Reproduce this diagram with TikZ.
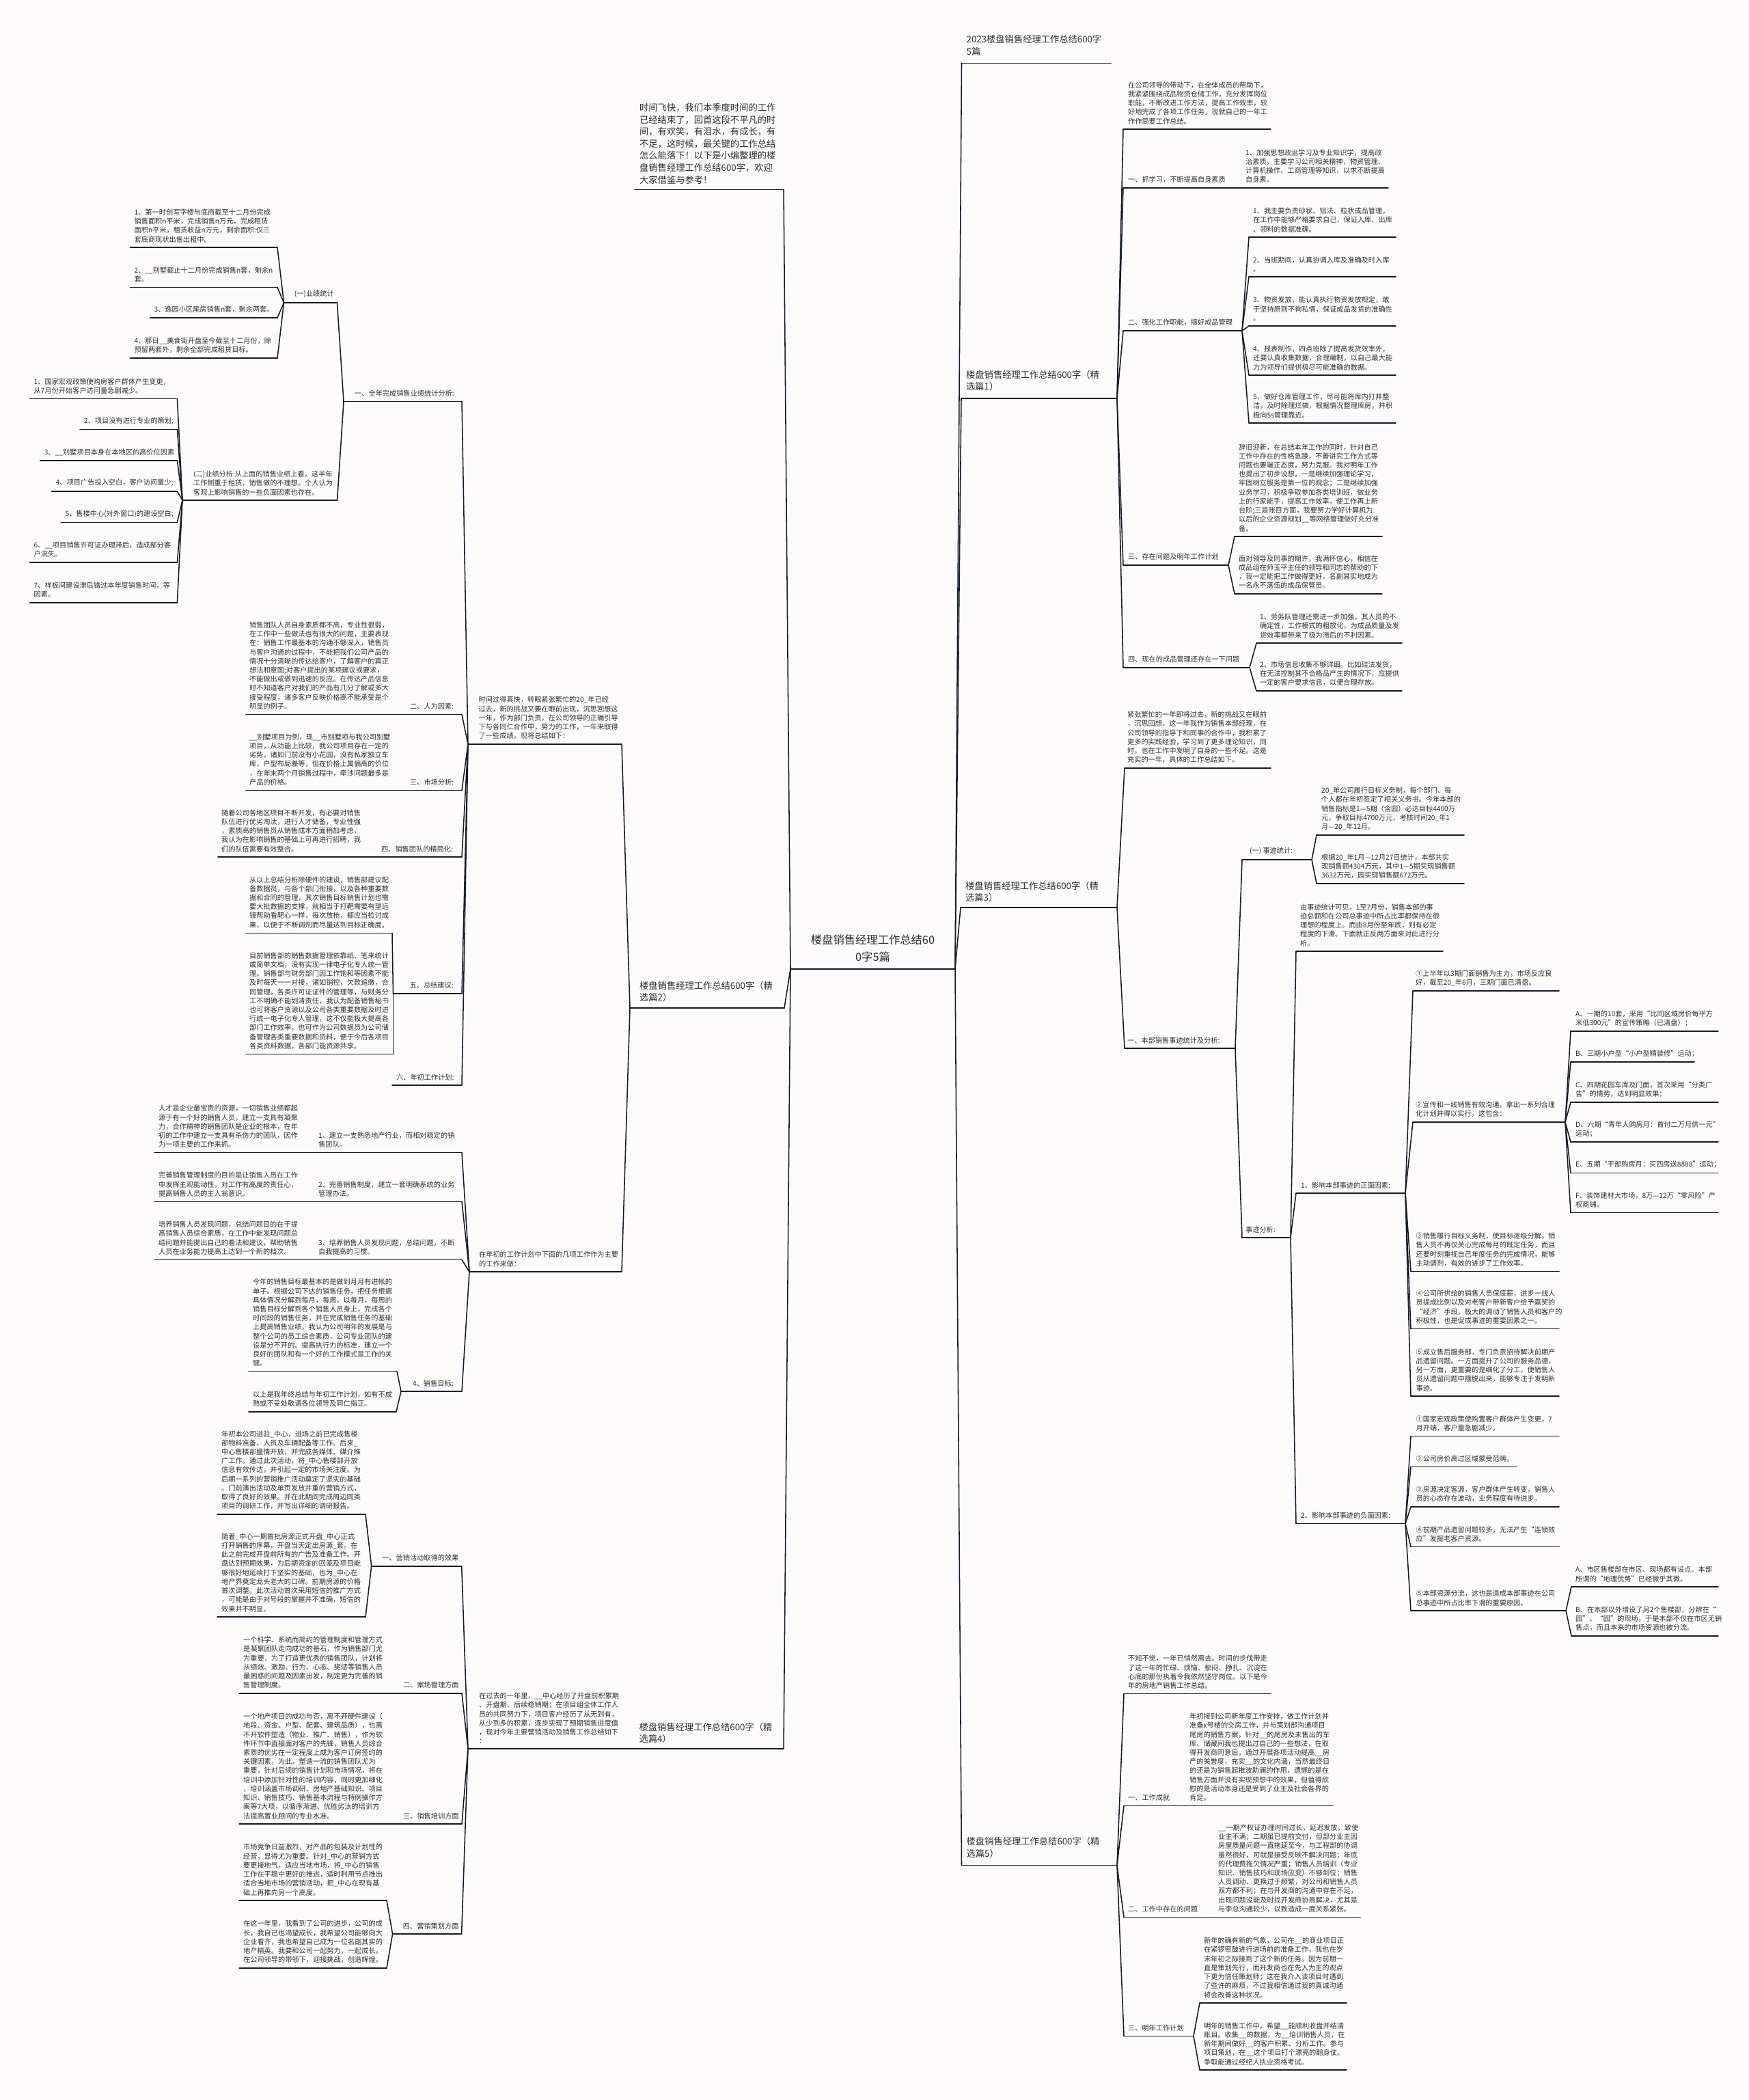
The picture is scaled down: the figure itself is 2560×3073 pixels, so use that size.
\documentclass[tikz,border=0pt]{standalone}
\usepackage{fontspec}
\setmainfont{Noto Sans CJK SC}
\usepackage{xcolor}

\definecolor{linecol}{RGB}{24,26,42}
\definecolor{txtcol}{RGB}{48,48,48}
\definecolor{paper}{RGB}{252,250,250}

\begin{document}
\begin{tikzpicture}[x=0.05cm,y=-0.05cm,
	ln/.style={draw=linecol, line width=2.2pt, line cap=round},
	sm/.style={anchor=south west, align=left, text=txtcol, inner xsep=0.3cm, inner ysep=0.35cm, font=\fontsize{14.5pt}{18.8pt}\selectfont},
	mid/.style={anchor=south west, align=left, text=txtcol, inner xsep=0.35cm, inner ysep=0.45cm, font=\fontsize{18.9pt}{25pt}\selectfont},
	big/.style={anchor=south, align=center, text=txtcol, inner ysep=0.52cm, font=\fontsize{23.2pt}{35.6pt}\selectfont}]

	\useasboundingbox (0,0) rectangle (2560,3073);
	\fill[paper] (0,0) rectangle (2560,3073);

	% root
	\node[big] (root) at (1277.5,1418) {楼盘销售经理工作总结60\\0字5篇};
	\draw[ln] (root.south) ++(-120.5,0) coordinate (root-w) -- ++(241,0) coordinate (root-e);

	% right titles
	\node[mid, inner ysep=0.55cm] (t0) at (1407.5,92.5) {2023楼盘销售经理工作总结600字\\5篇};
	\draw[ln] (t0.south west) -- ++(218.5,0) coordinate (t0-e);
	\node[mid, inner ysep=0.55cm] (b1) at (1407,583) {楼盘销售经理工作总结600字（精\\选篇1）};
	\draw[ln] (b1.south west) -- ++(228,0) coordinate (b1-e);
	\node[mid, inner ysep=0.4cm] (b3) at (1406,1328) {楼盘销售经理工作总结600字（精\\选篇3）};
	\draw[ln] (b3.south west) -- ++(229,0) coordinate (b3-e);
	\node[mid, inner ysep=0.55cm] (b5) at (1407.5,2729.6) {楼盘销售经理工作总结600字（精\\选篇5）};
	\draw[ln] (b5.south west) -- ++(227.5,0) coordinate (b5-e);

	\draw[ln] (root-e) -- (t0.south west);
	\draw[ln] (root-e) -- (b1.south west);
	\draw[ln] (root-e) -- (b3.south west);
	\draw[ln] (root-e) -- (b5.south west);

	% left titles
	\node[mid, inner ysep=0.4cm] (l0) at (929,277.3) {时间飞快，我们本季度时间的工作\\已经结束了，回首这段不平凡的时\\间，有欢笑，有泪水，有成长，有\\不足，这时候，最关键的工作总结\\怎么能落下！以下是小编整理的楼\\盘销售经理工作总结600字，欢迎\\大家借鉴与参考！};
	\draw[ln] (l0.south west) -- ++(218,0) coordinate (l0-e);
	\node[mid, inner xsep=0.7cm] (b2) at (922,1475) {楼盘销售经理工作总结600字（精\\选篇2）};
	\draw[ln] (b2.south west) -- ++(226,0) coordinate (b2-e);
	\node[mid, inner xsep=0.52cm, inner ysep=0.4cm] (b4) at (925,2559) {楼盘销售经理工作总结600字（精\\选篇4）};
	\draw[ln] (b4.south west) -- ++(222,0) coordinate (b4-e);

	\draw[ln] (root-w) -- (l0-e);
	\draw[ln] (root-w) -- (b2-e);
	\draw[ln] (root-w) -- (b4-e);

	% branch 1
	\node[sm, inner xsep=0.35cm] (b1i) at (1644,189) {在公司领导的带动下，在全体成员的帮助下，\\我紧紧围绕成品物资仓储工作，充分发挥岗位\\职能，不断改进工作方法，提高工作效率，较\\好地完成了各项工作任务，现就自己的一年工\\作作简要工作总结。};
	\draw[ln] (b1i.south west) -- ++(216,0);
	\node[sm, inner xsep=0.35cm] (b1a) at (1644,275) {一、抓学习，不断提高自身素质};
	\draw[ln] (b1a.south west) -- ++(174,0) coordinate (b1a-e);
	\node[sm, inner xsep=0.25cm] (b1a1) at (1818,275) {1、加强思想政治学习及专业知识学，提高政\\治素质。主要学习公司相关精神，物资管理、\\计算机操作、工商管理等知识，以求不断提高\\自身素。};
	\draw[ln] (b1a1.south west) -- ++(214,0);
	\node[sm, inner xsep=0.35cm] (b1b) at (1644,484) {二、强化工作职能，搞好成品管理};
	\draw[ln] (b1b.south west) -- ++(174,0) coordinate (b1b-e);
	\node[sm] (b1b1) at (1828,347) {1、我主要负责砂状、铝法、粒状成品管理，\\在工作中能够严格要求自己，保证入库、出库\\、领料的数据准确。};
	\draw[ln] (b1b1.south west) -- ++(215,0);
	\node[sm] (b1b2) at (1828,405) {2、当班期间，认真协调入库及准确及时入库\\。};
	\draw[ln] (b1b2.south west) -- ++(215,0);
	\node[sm] (b1b3) at (1828,477) {3、物资发放，能认真执行物资发放规定，敢\\于坚持原则不徇私情，保证成品发货的准确性\\。};
	\draw[ln] (b1b3.south west) -- ++(215,0);
	\node[sm] (b1b4) at (1828,549) {4、报表制作，四点班除了提高发货效率外，\\还要认真收集数据，合理编制，以自己最大能\\力为领导们提供极尽可能准确的数据。};
	\draw[ln] (b1b4.south west) -- ++(215,0);
	\node[sm] (b1b5) at (1828,619) {5、做好仓库管理工作，尽可能将库内打井整\\洁，及时除理烂袋，根据情况整理库房，并积\\极向5s管理靠近。};
	\draw[ln] (b1b5.south west) -- ++(215,0);
	\node[sm, inner xsep=0.35cm] (b1c) at (1644,827) {三、存在问题及明年工作计划};
	\draw[ln] (b1c.south west) -- ++(154,0) coordinate (b1c-e);
	\node[sm] (b1c1) at (1807,785) {辞旧迎新，在总结本年工作的同时，针对自己\\工作中存在的性格急躁，不善讲究工作方式等\\问题也要端正态度，努力克服。我对明年工作\\也提出了初步设想，一是继续加强理论学习，\\牢固树立服务是第一位的观念；二是继续加强\\业务学习，积极争取参加各类培训班，做业务\\上的行家能手，提高工作效率，使工作再上新\\台阶;三是账目方面，我要努力学好计算机为\\以后的企业资源规划\_\_等网络管理做好充分准\\备。};
	\draw[ln] (b1c1.south west) -- ++(216,0);
	\node[sm] (b1c2) at (1807,869) {面对领导及同事的期许，我满怀信心，相信在\\成品组在师玉平主任的领导和同志的帮助的下\\，我一定能把工作做得更好，名副其实地成为\\一名永不落伍的成品保管员。};
	\draw[ln] (b1c2.south west) -- ++(216,0);
	\node[sm, inner xsep=0.35cm] (b1d) at (1644,977) {四、现在的成品管理还存在一下问题};
	\draw[ln] (b1d.south west) -- ++(185,0) coordinate (b1d-e);
	\node[sm, inner xsep=0.25cm] (b1d1) at (1839,941) {1、劳务队管理还需进一步加强，其人员的不\\确定性，工作模式的粗放化，为成品质量及发\\货效率都带来了极为滞后的不利因素。};
	\draw[ln] (b1d1.south west) -- ++(213,0);
	\node[sm, inner xsep=0.25cm] (b1d2) at (1839,1011) {2、市场信息收集不够详细。比如硅法发货，\\在无法控制其不合格品产生的情况下，应提供\\一定的客户要求信息，以便合理存放。};
	\draw[ln] (b1d2.south west) -- ++(213,0);

	\draw[ln] (b1-e) -- (b1i.south west);
	\draw[ln] (b1-e) -- (b1a.south west);
	\draw[ln] (b1-e) -- (b1b.south west);
	\draw[ln] (b1-e) -- (b1c.south west);
	\draw[ln] (b1-e) -- (b1d.south west);
	\draw[ln] (b1a-e) -- (b1a1.south west);
	\draw[ln] (b1b-e) -- (b1b1.south west);
	\draw[ln] (b1b-e) -- (b1b2.south west);
	\draw[ln] (b1b-e) -- (b1b3.south west);
	\draw[ln] (b1b-e) -- (b1b4.south west);
	\draw[ln] (b1b-e) -- (b1b5.south west);
	\draw[ln] (b1c-e) -- (b1c1.south west);
	\draw[ln] (b1c-e) -- (b1c2.south west);
	\draw[ln] (b1d-e) -- (b1d1.south west);
	\draw[ln] (b1d-e) -- (b1d2.south west);

	% branch 3
	\node[sm, inner xsep=0.2cm] (b3i) at (1646,1124) {紧张繁忙的一年即将过去，新的挑战又在眼前\\，沉思回想，这一年我作为销售本部经理，在\\公司领导的指导下和同事的合作中，我积累了\\更多的实践经验，学习到了更多理论知识，同\\时，也在工作中发明了自身的一些不足。这是\\充实的一年，具体的工作总结如下。};
	\draw[ln] (b3i.south west) -- ++(214,0);
	\node[sm, inner xsep=0.2cm] (b3a) at (1646,1534) {一、本部销售事迹统计及分析:};
	\draw[ln] (b3a.south west) -- ++(162,0) coordinate (b3a-e);
	\node[sm, inner xsep=0.55cm] (b3a1) at (1818,1258) {(一) 事迹统计:};
	\draw[ln] (b3a1.south west) -- ++(102,0) coordinate (b3a1-e);
	\node[sm, inner xsep=0.35cm] (b3a1a) at (1927,1222) {20\_年公司履行目标义务制，每个部门、每\\个人都在年初签定了相关义务书。今年本部的\\销售指标是1—5期（含园）必达目标4400万\\元，争取目标4700万元，考核时间20\_年1\\月—20\_年12月。};
	\draw[ln] (b3a1a.south west) -- ++(216,0);
	\node[sm, inner xsep=0.35cm] (b3a1b) at (1927,1293) {根据20\_年1月—12月27日统计，本部共实\\现销售额4304万元，其中1—5期实现销售额\\3632万元，园实现销售额672万元。};
	\draw[ln] (b3a1b.south west) -- ++(216,0);
	\node[sm, inner xsep=0.25cm] (b3a2) at (1818,1811) {事迹分析:};
	\draw[ln] (b3a2.south west) -- ++(71,0) coordinate (b3a2-e);
	\node[sm] (b3a2i) at (1897,1392) {由事迹统计可见，1至7月份，销售本部的事\\迹总额和在公司总事迹中所占比率都保持在很\\理想的程度上。而由8月份至年底，则有必定\\程度的下滑。下面就正反两方面来对此进行分\\析。};
	\draw[ln] (b3a2i.south west) -- ++(215,0);
	\node[sm, inner xsep=0.35cm] (b3a2a) at (1897,1746) {1、影响本部事迹的正面因素:};
	\draw[ln] (b3a2a.south west) -- ++(160,0) coordinate (b3a2a-e);
	\node[sm, inner xsep=0.2cm] (p1) at (2068,1450) {①上半年以3期门面销售为主力，市场反应良\\好，截至20\_年6月，三期门面已清盘。};
	\draw[ln] (p1.south west) -- ++(214,0);
	\node[sm, inner xsep=0.2cm] (p2) at (2068,1642) {②宣传和一线销售有效沟通，拿出一系列合理\\化计划并得以实行，这包含：};
	\draw[ln] (p2.south west) -- ++(223,0) coordinate (p2-e);
	\node[sm, inner xsep=0.35cm] (pa) at (2299,1509) {A、一期的10套，采用“比同区域房价每平方\\米低300元”的宣传策略（已清盘）；};
	\draw[ln] (pa.south west) -- ++(216,0);
	\node[sm, inner xsep=0.35cm] (pb) at (2299,1554) {B、三期小户型“小户型精装修”运动；};
	\draw[ln] (pb.south west) -- ++(181,0);
	\node[sm, inner xsep=0.35cm] (pc) at (2299,1613) {C、四期花园车库及门面，首次采用“分类广\\告”的情势，达到明显效果；};
	\draw[ln] (pc.south west) -- ++(216,0);
	\node[sm, inner xsep=0.35cm] (pd) at (2299,1671) {D、六期“青年人购房月：首付二万月供一元”\\运动；};
	\draw[ln] (pd.south west) -- ++(216,0);
	\node[sm, inner xsep=0.35cm] (pe) at (2299,1716.5) {E、五期“干部购房月：买四房送8888”运动；};
	\draw[ln] (pe.south west) -- ++(216,0);
	\node[sm, inner xsep=0.35cm] (pf) at (2299,1774.6) {F、装饰建材大市场，8万—12万“零风险”产\\权商铺。};
	\draw[ln] (pf.south west) -- ++(216,0);
	\node[sm, inner xsep=0.37cm] (p3) at (2065,1860.5) {③销售履行目标义务制，使目标逐级分解。销\\售人员不再仅关心完成每月的既定任务，而且\\还要时刻重视自己年度任务的完成情况，能够\\主动调剂，有效的进步了工作效率。};
	\draw[ln] (p3.south west) -- ++(217,0);
	\node[sm, inner xsep=0.37cm] (p4) at (2065,1944.5) {④公司所供给的销售人员保底薪，进步一线人\\员提成比例以及对老客户带新客户给予嘉奖的\\“经济”手段，极大的调动了销售人员和客户的\\积极性，也是促成事迹的重要因素之一。};
	\draw[ln] (p4.south west) -- ++(217,0);
	\node[sm, inner xsep=0.37cm] (p5) at (2065,2043) {⑤成立售后服务部，专门负责招待解决前期产\\品遗留问题。一方面提升了公司的服务品德，\\另一方面，更重要的是细化了分工，使销售人\\员从遗留问题中摆脱出来，能够专注于发明新\\事迹。};
	\draw[ln] (p5.south west) -- ++(217,0);
	\node[sm, inner xsep=0.35cm] (b3a2b) at (1897,2229.5) {2、影响本部事迹的负面因素:};
	\draw[ln] (b3a2b.south west) -- ++(160,0) coordinate (b3a2b-e);
	\node[sm, inner xsep=0.37cm] (n1) at (2065,2101.6) {①国家宏观政策使购置客户群体产生变更，7\\月开端，客户量急剧减少。};
	\draw[ln] (n1.south west) -- ++(217,0);
	\node[sm, inner xsep=0.37cm] (n2) at (2065,2146.4) {②公司房价高过区域蒙受范畴。};
	\draw[ln] (n2.south west) -- ++(155,0);
	\node[sm, inner xsep=0.37cm] (n3) at (2065,2205) {③房源决定客源，客户群体产生转变，销售人\\员的心态存在波动，业务程度有待进步。};
	\draw[ln] (n3.south west) -- ++(217,0);
	\node[sm, inner xsep=0.37cm] (n4) at (2065,2263.5) {④前期产品遗留问题较多，无法产生“连锁效\\应”发掘老客户资源。};
	\draw[ln] (n4.south west) -- ++(217,0);
	\node[sm, inner xsep=0.37cm] (n5) at (2065,2357) {⑤本部资源分流，这也是造成本部事迹在公司\\总事迹中所占比率下滑的重要原因。};
	\draw[ln] (n5.south west) -- ++(227,0) coordinate (n5-e);
	\node[sm] (n5a) at (2300,2322) {A、市区售楼部在市区、现场都有设点。本部\\所谓的“地理优势”已经微乎其微。};
	\draw[ln] (n5a.south west) -- ++(215,0);
	\node[sm] (n5b) at (2300,2394) {B、在本部以外增设了另2个售楼部，分辨在“\\园”、“园”的现场，于是本部不仅在市区无销\\售点，而且本来的市场资源也被分流。};
	\draw[ln] (n5b.south west) -- ++(215,0);

	\draw[ln] (b3-e) -- (b3i.south west);
	\draw[ln] (b3-e) -- (b3a.south west);
	\draw[ln] (b3a-e) -- (b3a1.south west);
	\draw[ln] (b3a-e) -- (b3a2.south west);
	\draw[ln] (b3a1-e) -- (b3a1a.south west);
	\draw[ln] (b3a1-e) -- (b3a1b.south west);
	\draw[ln] (b3a2-e) -- (b3a2i.south west);
	\draw[ln] (b3a2-e) -- (b3a2a.south west);
	\draw[ln] (b3a2-e) -- (b3a2b.south west);
	\draw[ln] (b3a2a-e) -- (p1.south west);
	\draw[ln] (b3a2a-e) -- (p2.south west);
	\draw[ln] (b3a2a-e) -- (p3.south west);
	\draw[ln] (b3a2a-e) -- (p4.south west);
	\draw[ln] (b3a2a-e) -- (p5.south west);
	\draw[ln] (p2-e) -- (pa.south west);
	\draw[ln] (p2-e) -- (pb.south west);
	\draw[ln] (p2-e) -- (pc.south west);
	\draw[ln] (p2-e) -- (pd.south west);
	\draw[ln] (p2-e) -- (pe.south west);
	\draw[ln] (p2-e) -- (pf.south west);
	\draw[ln] (b3a2b-e) -- (n1.south west);
	\draw[ln] (b3a2b-e) -- (n2.south west);
	\draw[ln] (b3a2b-e) -- (n3.south west);
	\draw[ln] (b3a2b-e) -- (n4.south west);
	\draw[ln] (b3a2b-e) -- (n5.south west);
	\draw[ln] (n5-e) -- (n5a.south west);
	\draw[ln] (n5-e) -- (n5b.south west);

	% branch 5
	\node[sm] (b5i) at (1645,2478.5) {不知不觉，一年已悄然离去。时间的步伐带走\\了这一年的忙碌、烦恼、郁闷、挣扎、沉淀在\\心底的那份执着令我依然坚守岗位。以下是今\\年的房地产销售工作总结。};
	\draw[ln] (b5i.south west) -- ++(215,0);
	\node[sm] (b5a) at (1645,2642.5) {一、工作成就};
	\draw[ln] (b5a.south west) -- ++(91,0) coordinate (b5a-e);
	\node[sm, inner xsep=0.25cm] (b5a1) at (1736,2642.5) {年初接到公司新年度工作安排，做工作计划并\\准备x号楼的交房工作，并与策划部沟通项目\\尾房的销售方案，针对\_\_的尾房及未售出的车\\库、储藏间我也提出过自己的一些想法，在取\\得开发商同意后，通过开展各项活动提高\_\_房\\产的美誉度，充实\_\_的文化内涵，当然最终目\\的还是为销售起推波助澜的作用，遗憾的是在\\销售方面并没有实现预想中的效果，但值得欣\\慰的是活动本身还是受到了业主及社会各界的\\肯定。};
	\draw[ln] (b5a1.south west) -- ++(215,0);
	\node[sm] (b5b) at (1645,2805.6) {二、工作中存在的问题};
	\draw[ln] (b5b.south west) -- ++(132,0) coordinate (b5b-e);
	\node[sm] (b5b1) at (1777,2805.6) {\_\_一期产权证办理时间过长，延迟发放，致使\\业主不满；二期虽已提前交付，但部分业主因\\房屋质量问题一直拖延至今，与工程部的协调\\虽然很好，可就是接受反映不解决问题；年底\\的代理费拖欠情况严重；销售人员培训（专业\\知识、销售技巧和现场应变）不够到位；销售\\人员调动、更换过于频繁，对公司和销售人员\\双方都不利；在与开发商的沟通中存在不足，\\出现问题没能及时找开发商协商解决，尤其是\\与李总沟通较少，以致造成一度关系紧张。};
	\draw[ln] (b5b1.south west) -- ++(214,0);
	\node[sm] (b5c) at (1645,2979.4) {三、明年工作计划};
	\draw[ln] (b5c.south west) -- ++(102,0) coordinate (b5c-e);
	\node[sm] (b5c1) at (1756,2931) {新年的确有新的气象，公司在\_\_的商业项目正\\在紧锣密鼓进行进场前的准备工作，我也在岁\\末年初之际接到了这个新的任务。因为前期一\\直是策划先行，而开发商也在先入为主的观点\\下更为信任策划师；这在我介入该项目时遇到\\了些许的麻烦，不过我相信通过我的真诚沟通\\将会改善这种状况。};
	\draw[ln] (b5c1.south west) -- ++(215,0);
	\node[sm] (b5c2) at (1756,3029) {明年的销售工作中，希望\_\_能顺利收盘并结清\\账目。收集\_\_的数据，为\_\_培训销售人员，在\\新年期间做好\_\_的客户积累、分析工作。参与\\项目策划，在\_\_这个项目打个漂亮的翻身仗。\\争取能通过经纪人执业资格考试。};
	\draw[ln] (b5c2.south west) -- ++(215,0);

	\draw[ln] (b5-e) -- (b5i.south west);
	\draw[ln] (b5-e) -- (b5a.south west);
	\draw[ln] (b5-e) -- (b5b.south west);
	\draw[ln] (b5-e) -- (b5c.south west);
	\draw[ln] (b5a-e) -- (b5a1.south west);
	\draw[ln] (b5b-e) -- (b5b1.south west);
	\draw[ln] (b5c-e) -- (b5c1.south west);
	\draw[ln] (b5c-e) -- (b5c2.south west);

	% branch 2
	\node[sm, inner xsep=0.78cm] (b2i) at (685,1089) {时间过得真快，转眼紧张繁忙的20\_年已经\\过去，新的挑战又要在眼前出现，沉思回想这\\一年，作为部门负责，在公司领导的正确引导\\下与各同仁合作中，努力的工作，一年来取得\\了一些成绩，现将总结如下：};
	\draw[ln] (b2i.south west) -- ++(225,0) coordinate (b2i-e);
	\node[sm, inner xsep=0.7cm] (b2w) at (687,1861) {在年初的工作计划中下面的几项工作作为主要\\的工作来做：};
	\draw[ln] (b2w.south west) -- ++(223,0) coordinate (b2w-e);

	\node[sm, inner xsep=0.8cm] (s1) at (503,587.6) {一、全年完成销售业绩统计分析:};
	\draw[ln] (s1.south west) -- ++(173,0) coordinate (s1-e);
	\node[sm, inner xsep=0.76cm] (s1a) at (415.5,443) {(一)业绩统计};
	\draw[ln] (s1a.south west) -- ++(78,0) coordinate (s1a-e);
	\node[sm] (s1a1) at (190.5,362) {1、第一时创写字楼与底商截至十二月份完成\\销售面积n平米，完成销售n万元，完成租赁\\面积n平米，租赁收益n万元，剩余面积:仅三\\套底商现状出售出租中。};
	\draw[ln] (s1a1.south west) -- ++(215.5,0) coordinate (s1a1-e);
	\node[sm] (s1a2) at (190.5,420.4) {2、\_\_别墅截止十二月份完成销售n套，剩余n\\套。};
	\draw[ln] (s1a2.south west) -- ++(215.5,0) coordinate (s1a2-e);
	\node[sm] (s1a3) at (219.5,465) {3、逸园小区尾房销售n套，剩余两套。};
	\draw[ln] (s1a3.south west) -- ++(186.5,0) coordinate (s1a3-e);
	\node[sm] (s1a4) at (190.5,524) {4、那日\_\_美食街开盘至今截至十二月份，除\\预留两套外，剩余全部完成租赁目标。};
	\draw[ln] (s1a4.south west) -- ++(215.5,0) coordinate (s1a4-e);
	\node[sm, inner xsep=0.8cm] (s1b) at (267,732) {(二)业绩分析:从上面的销售业绩上看，这半年\\工作侧重于租赁，销售做的不理想。个人认为\\客观上影响销售的一些负面因素也存在。};
	\draw[ln] (s1b.south west) -- ++(226.6,0) coordinate (s1b-e);
	\node[sm] (s1b1) at (43.6,583.7) {1、国家宏观政策使购房客户群体产生变更，\\从7月份开始客户访问量急剧减少。};
	\draw[ln] (s1b1.south west) -- ++(215.8,0) coordinate (s1b1-e);
	\node[sm] (s1b2) at (117,628.7) {2、项目没有进行专业的策划;};
	\draw[ln] (s1b2.south west) -- ++(142.4,0) coordinate (s1b2-e);
	\node[sm] (s1b3) at (58.8,673.8) {3、\_\_别墅项目本身在本地区的高价位因素};
	\draw[ln] (s1b3.south west) -- ++(200.6,0) coordinate (s1b3-e);
	\node[sm] (s1b4) at (75.8,719) {4、项目广告投入空白，客户访问量少;};
	\draw[ln] (s1b4.south west) -- ++(183.6,0) coordinate (s1b4-e);
	\node[sm] (s1b5) at (89.5,764.4) {5、售楼中心(对外窗口)的建设空白;};
	\draw[ln] (s1b5.south west) -- ++(169.9,0) coordinate (s1b5-e);
	\node[sm] (s1b6) at (43.6,823) {6、\_\_项目销售许可证办理滞后，造成部分客\\户流失。};
	\draw[ln] (s1b6.south west) -- ++(215.8,0) coordinate (s1b6-e);
	\node[sm] (s1b7) at (43.6,881.8) {7、样板间建设滞后错过本年度销售时间，等\\因素。};
	\draw[ln] (s1b7.south west) -- ++(215.8,0) coordinate (s1b7-e);

	\node[sm, inner xsep=0.75cm] (s2) at (585,1045.3) {二、人为因素:};
	\draw[ln] (s2.south west) -- ++(91,0) coordinate (s2-e);
	\node[sm, inner xsep=0.25cm] (s2a) at (360,1045.3) {销售团队人员自身素质都不高，专业性很弱，\\在工作中一些做法也有很大的问题，主要表现\\在：销售工作最基本的沟通不够深入，销售员\\与客户沟通的过程中，不能把我们公司产品的\\情况十分清晰的传达给客户，了解客户的真正\\想法和意图;对客户提出的某项建议或要求，\\不能做出或做到迅速的反应。在传达产品信息\\时不知道客户对我们的产品有几分了解或多大\\接受程度，诸多客户反映价格高不能承受是个\\明显的例子。};
	\draw[ln] (s2a.south west) -- ++(225,0) coordinate (s2a-e);
	\node[sm, inner xsep=0.75cm] (s3) at (585,1156.4) {三、市场分析:};
	\draw[ln] (s3.south west) -- ++(91,0) coordinate (s3-e);
	\node[sm, inner xsep=0.25cm] (s3a) at (360,1156.4) {\_\_别墅项目为例，现\_\_市别墅项与我公司别墅\\项目，从功能上比较，我公司项目存在一定的\\劣势，诸如门前没有小花园，没有私家独立车\\库，户型布局差等，但在价格上属偏高的价位\\，在年末两个月销售过程中，牵涉问题最多是\\产品的价格。};
	\draw[ln] (s3a.south west) -- ++(225,0) coordinate (s3a-e);
	\node[sm, inner xsep=0.5cm] (s4) at (548,1254) {四、销售团队的精简化:};
	\draw[ln] (s4.south west) -- ++(128,0) coordinate (s4-e);
	\node[sm, inner xsep=0.25cm] (s4a) at (319,1254) {随着公司各地区项目不断开发，有必要对销售\\队伍进行优劣淘汰，进行人才储备，专业性强\\，素质高的销售员从销售成本方面稍加考虑，\\我认为在影响销售的基础上可再进行招聘，我\\们的队伍需要有效整合。};
	\draw[ln] (s4a.south west) -- ++(229,0) coordinate (s4a-e);
	\node[sm, inner xsep=1.2cm] (s5) at (575.5,1454) {五、总结建议:};
	\draw[ln] (s5.south west) -- ++(100.5,0) coordinate (s5-e);
	\node[sm, inner xsep=0.25cm] (s5a) at (360,1365.3) {从以上总结分析除硬件的建设，销售部建议配\\备数据员，与各个部门衔接，以及各种重要数\\据和合同的管理，其次销售目标销售计划也需\\要大批数据的支撑，就相当于打靶需要有望远\\镜帮助看靶心一样，每次放枪，都应当检讨成\\果，以便于不断调剂而尽量达到目标正确度。};
	\draw[ln] (s5a.south west) -- ++(214,0) coordinate (s5a-e);
	\node[sm, inner xsep=0.25cm] (s5b) at (360,1542.5) {目前销售部的销售数据管理依靠纸、笔来统计\\或简单文档，没有实现一律电子化专人统一管\\理。销售部与财务部门因工作饱和等因素不能\\及时每天一一对接，诸如销控，欠款追缴，合\\同管理，各类许可证证件的管理等，与财务分\\工不明确不能划清责任，我认为配备销售秘书\\也可将客户资源以及公司各类重要数据及时进\\行统一电子化专人管理，这不仅能极大提高各\\部门工作效率，也可作为公司数据员为公司储\\备管理各类重要数据和资料，便于今后各项目\\各类资料数据，各部门能资源共享。};
	\draw[ln] (s5b.south west) -- ++(215.5,0) coordinate (s5b-e);
	\node[sm] (s6) at (574,1588) {六、年初工作计划:};
	\draw[ln] (s6.south west) -- ++(102,0) coordinate (s6-e);

	\node[sm] (w1) at (460,1686.7) {1、建立一支熟悉地产行业，而相对稳定的销\\售团队。};
	\draw[ln] (w1.south west) -- ++(216,0) coordinate (w1-e);
	\node[sm] (w1a) at (226,1686.7) {人才是企业最宝贵的资源，一切销售业绩都起\\源于有一个好的销售人员，建立一支具有凝聚\\力，合作精神的销售团队是企业的根本，在年\\初的工作中建立一支具有杀伤力的团队，因作\\为一项主要的工作来抓。};
	\draw[ln] (w1a.south west) -- ++(234,0) coordinate (w1a-e);
	\node[sm] (w2) at (460,1758.3) {2、完善销售制度，建立一套明确系统的业务\\管理办法。};
	\draw[ln] (w2.south west) -- ++(216,0) coordinate (w2-e);
	\node[sm] (w2a) at (226,1758.3) {完善销售管理制度的目的是让销售人员在工作\\中发挥主观能动性，对工作有高度的责任心，\\提高销售人员的主人翁意识。};
	\draw[ln] (w2a.south west) -- ++(234,0) coordinate (w2a-e);
	\node[sm] (w3) at (460,1843.3) {3、培养销售人员发现问题，总结问题，不断\\自我提高的习惯。};
	\draw[ln] (w3.south west) -- ++(216,0) coordinate (w3-e);
	\node[sm] (w3a) at (226,1843.3) {培养销售人员发现问题，总结问题目的在于提\\高销售人员综合素质，在工作中能发现问题总\\结问题并能提出自己的看法和建议，帮助销售\\人员在业务能力提高上达到一个新的档次。};
	\draw[ln] (w3a.south west) -- ++(234,0) coordinate (w3a-e);
	\node[sm, inner xsep=0.85cm] (w4) at (587,2036) {4、销售目标:};
	\draw[ln] (w4.south west) -- ++(89,0) coordinate (w4-e);
	\node[sm] (w4a) at (364,2006.7) {今年的销售目标最基本的是做到月月有进帐的\\单子。根据公司下达的销售任务，把任务根据\\具体情况分解到每月，每周，以每月，每周的\\销售目标分解到各个销售人员身上，完成各个\\时间段的销售任务，并在完成销售任务的基础\\上提高销售业绩，我认为公司明年的发展是与\\整个公司的员工综合素质，公司专业团队的建\\设是分不开的。提高执行力的标准，建立一个\\良好的团队和有一个好的工作模式是工作的关\\键。};
	\draw[ln] (w4a.south west) -- ++(217,0) coordinate (w4a-e);
	\node[sm] (w4b) at (364,2065.7) {以上是我年终总结与年初工作计划，如有不成\\熟或不妥处敬请各位领导及同仁指正。};
	\draw[ln] (w4b.south west) -- ++(216,0) coordinate (w4b-e);

	\draw[ln] (b2.south west) -- (b2i-e);
	\draw[ln] (b2.south west) -- (b2w-e);
	\draw[ln] (b2i.south west) -- (s1-e);
	\draw[ln] (b2i.south west) -- (s2-e);
	\draw[ln] (b2i.south west) -- (s3-e);
	\draw[ln] (b2i.south west) -- (s4-e);
	\draw[ln] (b2i.south west) -- (s5-e);
	\draw[ln] (b2i.south west) -- (s6-e);
	\draw[ln] (s1.south west) -- (s1a-e);
	\draw[ln] (s1.south west) -- (s1b-e);
	\draw[ln] (s1a.south west) -- (s1a1-e);
	\draw[ln] (s1a.south west) -- (s1a2-e);
	\draw[ln] (s1a.south west) -- (s1a3-e);
	\draw[ln] (s1a.south west) -- (s1a4-e);
	\draw[ln] (s1b.south west) -- (s1b1-e);
	\draw[ln] (s1b.south west) -- (s1b2-e);
	\draw[ln] (s1b.south west) -- (s1b3-e);
	\draw[ln] (s1b.south west) -- (s1b4-e);
	\draw[ln] (s1b.south west) -- (s1b5-e);
	\draw[ln] (s1b.south west) -- (s1b6-e);
	\draw[ln] (s1b.south west) -- (s1b7-e);
	\draw[ln] (s2.south west) -- (s2a-e);
	\draw[ln] (s3.south west) -- (s3a-e);
	\draw[ln] (s4.south west) -- (s4a-e);
	\draw[ln] (s5.south west) -- (s5a-e);
	\draw[ln] (s5.south west) -- (s5b-e);
	\draw[ln] (b2w.south west) -- (w1-e);
	\draw[ln] (b2w.south west) -- (w2-e);
	\draw[ln] (b2w.south west) -- (w3-e);
	\draw[ln] (b2w.south west) -- (w4-e);
	\draw[ln] (w1.south west) -- (w1a-e);
	\draw[ln] (w2.south west) -- (w2a-e);
	\draw[ln] (w3.south west) -- (w3a-e);
	\draw[ln] (w4.south west) -- (w4a-e);
	\draw[ln] (w4.south west) -- (w4b-e);

	% branch 4
	\node[sm, inner xsep=0.8cm] (b4i) at (685,2559) {在过去的一年里，\_\_中心经历了开盘前积累期\\、开盘期、后续稳销期；在项目组全体工作人\\员的共同努力下，项目客户经历了从无到有，\\从少到多的积累，逐步实现了预期销售进度值\\，现对今年主要营销活动及销售工作总结如下\\：};
	\draw[ln] (b4i.south west) -- ++(240,0) coordinate (b4i-e);
	\node[sm, inner xsep=0.77cm] (c1) at (543.7,2291.7) {一、营销活动取得的效果};
	\draw[ln] (c1.south west) -- ++(132,0) coordinate (c1-e);
	\node[sm] (c1a) at (318,2216) {年初本公司进驻\_中心，进场之前已完成售楼\\部物料准备、人员及车辆配备等工作。后来\_\\中心售楼部盛情开放，并完成各媒体、媒介推\\广工作。通过此次活动，将\_中心售楼部开放\\信息有效传达，并引起一定的市场关注度。为\\后期一系列的营销推广活动奠定了坚实的基础\\。门前演出活动及单页发放并重的营销方式，\\取得了良好的效果。并在此期间完成周边同类\\项目的调研工作，并写出详细的调研报告。};
	\draw[ln] (c1a.south west) -- ++(217,0) coordinate (c1a-e);
	\node[sm] (c1b) at (318,2366) {随着\_中心一期首批房源正式开盘\_中心正式\\打开销售的序幕，开盘当天定出房源\_套。在\\此之前完成开盘前所有的广告及准备工作。开\\盘达到预期效果，为后期资金的回笼及项目能\\够很好地延续打下坚实的基础，也为\_中心在\\地产界奠定龙头老大的口碑。前期房源的价格\\首次调整。此次活动首次采用短信的推广方式\\，可能是由于对号段的掌握并不准确，短信的\\效果并不明显。};
	\draw[ln] (c1b.south west) -- ++(217,0) coordinate (c1b-e);
	\node[sm] (c2) at (584,2477.7) {二、案场管理方面};
	\draw[ln] (c2.south west) -- ++(92,0) coordinate (c2-e);
	\node[sm] (c2a) at (350,2477.7) {一个科学、系统而简约的管理制度和管理方式\\是凝聚团队走向成功的基石，作为销售部门尤\\为重要，为了打造更优秀的销售团队，计划将\\从绩效、激励、行为、心态、奖惩等销售人员\\最困惑的问题及因素出发，制定更为完善的销\\售管理制度。};
	\draw[ln] (c2a.south west) -- ++(234,0) coordinate (c2a-e);
	\node[sm] (c3) at (584,2669) {三、销售培训方面};
	\draw[ln] (c3.south west) -- ++(92,0) coordinate (c3-e);
	\node[sm] (c3a) at (350,2669) {一个地产项目的成功与否，离不开硬件建设（\\地段、资金、户型、配套、建筑品质），也离\\不开软件塑造（物业、推广、销售），作为软\\件环节中直接面对客户的先锋，销售人员综合\\素质的优劣在一定程度上成为客户订房签约的\\关键因素，为此，塑造一流的销售团队尤为\\重要，针对后续的销售计划和市场情况，将在\\培训中添加针对性的培训内容，同时更加细化\\，培训涵盖市场调研、房地产基础知识、项目\\知识、销售技巧、销售基本流程与特例操作方\\案等7大项，以循序渐进、优胜劣汰的培训方\\法提高置业顾问的专业水准。};
	\draw[ln] (c3a.south west) -- ++(234,0) coordinate (c3a-e);
	\node[sm, inner xsep=0.76cm] (c4) at (574.6,2830) {四、营销策划方面};
	\draw[ln] (c4.south west) -- ++(101,0) coordinate (c4-e);
	\node[sm] (c4a) at (350,2781) {市场竞争日益激烈，对产品的包装及计划性的\\经营，显得尤为重要。针对\_中心的营销方式\\要更接地气，适应当地市场，将\_中心的销售\\工作在平稳中更好的推进，适时利用节点推出\\适合当地市场的营销活动，把\_中心在现有基\\础上再推向另一个高度。};
	\draw[ln] (c4a.south west) -- ++(216,0) coordinate (c4a-e);
	\node[sm] (c4b) at (350,2880) {在这一年里，我看到了公司的进步，公司的成\\长，我自己也渴望成长，我希望公司能够向大\\企业看齐，我也希望自己成为一位名副其实的\\地产精英。我要和公司一起努力，一起成长。\\在公司领导的带领下，迎接挑战，创造辉煌。};
	\draw[ln] (c4b.south west) -- ++(216,0) coordinate (c4b-e);

	\draw[ln] (b4.south west) -- (b4i-e);
	\draw[ln] (b4i.south west) -- (c1-e);
	\draw[ln] (b4i.south west) -- (c2-e);
	\draw[ln] (b4i.south west) -- (c3-e);
	\draw[ln] (b4i.south west) -- (c4-e);
	\draw[ln] (c1.south west) -- (c1a-e);
	\draw[ln] (c1.south west) -- (c1b-e);
	\draw[ln] (c2.south west) -- (c2a-e);
	\draw[ln] (c3.south west) -- (c3a-e);
	\draw[ln] (c4.south west) -- (c4a-e);
	\draw[ln] (c4.south west) -- (c4b-e);

\end{tikzpicture}
\end{document}
